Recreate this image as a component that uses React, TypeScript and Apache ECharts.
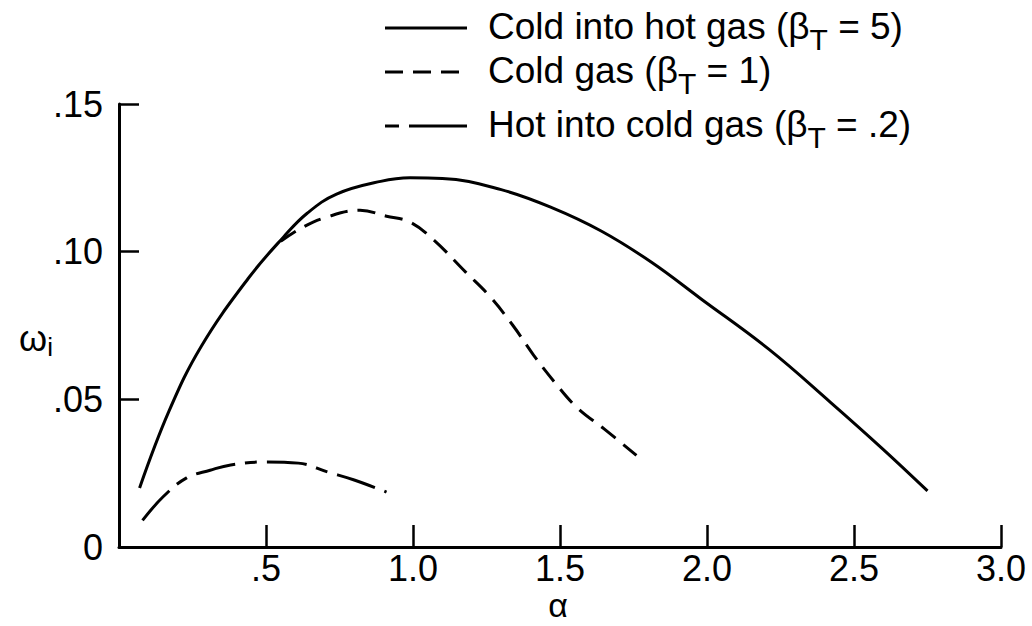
import React, { useEffect, useRef } from 'react';
import * as echarts from 'echarts';

const FONT = '"Liberation Sans", Arial, Helvetica, sans-serif';

// Cold into hot gas (beta_T = 5)
const coldIntoHotAlpha = [0.07, 0.17, 0.28, 0.44, 0.56, 0.64, 0.74, 0.89, 0.99, 1.10, 1.30, 1.47, 1.64, 1.81, 1.98, 2.21, 2.42, 2.60, 2.75];
const coldIntoHotOmega = [0.020, 0.046, 0.068, 0.091, 0.105, 0.113, 0.1195, 0.1238, 0.125, 0.1248, 0.121, 0.115, 0.107, 0.0965, 0.084, 0.067, 0.049, 0.033, 0.019];

// Cold gas (beta_T = 1)
const coldGasAlpha = [0.55, 0.62, 0.70, 0.82, 0.91, 0.99, 1.07, 1.18, 1.26, 1.34, 1.41, 1.48, 1.56, 1.65, 1.76];
const coldGasOmega = [0.1035, 0.108, 0.1115, 0.114, 0.112, 0.110, 0.104, 0.093, 0.085, 0.075, 0.065, 0.056, 0.047, 0.040, 0.031];

// Hot into cold gas (beta_T = .2)
const hotIntoColdAlpha = [0.08, 0.15, 0.23, 0.31, 0.38, 0.50, 0.61, 0.71, 0.80, 0.91];
const hotIntoColdOmega = [0.009, 0.017, 0.0234, 0.026, 0.0278, 0.0288, 0.0284, 0.0254, 0.0227, 0.0186];

const xTickLabels: Record<string, string> = { '0': '', '0.5': '.5', '1': '1.0', '1.5': '1.5', '2': '2.0', '2.5': '2.5', '3': '3.0' };
const yTickLabels: Record<string, string> = { '0': '0', '0.05': '.05', '0.1': '.10', '0.15': '.15' };

const legendNames = ['Cold into hot gas', 'Cold gas', 'Hot into cold gas'];
const legendBeta = ['5', '1', '.2'];

const zip = (a: number[], b: number[]) => a.map((v, i) => [v, b[i]]);

const DASHED = [18, 10];
const DASHDOT = [40, 10, 12, 10];

export default function App() {
  const ref = useRef<HTMLDivElement>(null);
  useEffect(() => {
    document.body.style.margin = '0';
    if (!ref.current) return;
    const chart = echarts.init(ref.current, undefined, { renderer: 'svg' });

    const legendRows = [26, 70, 124];
    const legendDash: any[] = ['solid', DASHED, [14, 10, 58, 0]];
    const graphic: any[] = [];
    legendRows.forEach((y, i) => {
      graphic.push({
        type: 'line',
        shape: { x1: 385, y1: y + 2, x2: 467, y2: y + 2 },
        style: { stroke: '#000', lineWidth: 3, lineDash: legendDash[i] === 'solid' ? null : legendDash[i] },
      });
      graphic.push({
        type: 'text',
        x: 488,
        y,
        style: {
          text: `{m|${legendNames[i]} (β}{s|T}{m| = ${legendBeta[i]})}`,
          verticalAlign: 'middle',
          align: 'left',
          rich: {
            m: { fontSize: 37, fontFamily: FONT, fill: '#000' },
            s: { fontSize: 30, fontFamily: FONT, fill: '#000', padding: [26, 0, 0, 0] },
          },
        },
      });
    });
    graphic.push({
      type: 'text',
      x: 36,
      y: 338,
      style: {
        text: '{w|ω}{i|i}',
        align: 'center',
        verticalAlign: 'middle',
        rich: {
          w: { fontSize: 36, fontFamily: FONT, fill: '#000' },
          i: { fontSize: 26, fontFamily: FONT, fill: '#000', padding: [18, 0, 0, 0] },
        },
      },
    });
    graphic.push({
      type: 'text',
      x: 558,
      y: 605,
      style: { text: 'α', fontSize: 34, fontFamily: FONT, fill: '#000', align: 'center', verticalAlign: 'middle' },
    });

    const lineBase = { type: 'line', showSymbol: false, smooth: 0.4, silent: true };

    chart.setOption({
      animation: false,
      backgroundColor: '#fff',
      grid: { left: 119, right: 31, top: 104, bottom: 79 },
      xAxis: {
        type: 'value',
        min: 0,
        max: 3,
        interval: 0.5,
        axisLine: { lineStyle: { color: '#000', width: 3 } },
        axisTick: { inside: true, length: 22, lineStyle: { color: '#000', width: 2.5 } },
        axisLabel: {
          color: '#000',
          fontSize: 36,
          fontFamily: FONT,
          margin: 3,
          formatter: (v: number) => xTickLabels[String(Math.round(v * 10) / 10)] ?? String(v),
        },
        splitLine: { show: false },
      },
      yAxis: {
        type: 'value',
        min: 0,
        max: 0.15,
        interval: 0.05,
        axisLine: { lineStyle: { color: '#000', width: 3 } },
        axisTick: { inside: true, length: 20, lineStyle: { color: '#000', width: 2.5 } },
        axisLabel: {
          color: '#000',
          fontSize: 36,
          fontFamily: FONT,
          margin: 16,
          formatter: (v: number) => yTickLabels[String(Math.round(v * 100) / 100)] ?? String(v),
        },
        splitLine: { show: false },
      },
      series: [
        {
          ...lineBase,
          name: 'Cold gas',
          data: zip(coldGasAlpha, coldGasOmega),
          lineStyle: { color: '#000', width: 3, type: DASHED },
          z: 2,
        },
        {
          ...lineBase,
          name: 'Hot into cold gas',
          data: zip(hotIntoColdAlpha, hotIntoColdOmega),
          lineStyle: { color: '#000', width: 3, type: DASHDOT },
          z: 2,
        },
        {
          ...lineBase,
          name: 'Cold into hot gas',
          data: zip(coldIntoHotAlpha, coldIntoHotOmega),
          lineStyle: { color: '#000', width: 3, type: 'solid' },
          z: 3,
        },
      ],
      graphic,
    });
    return () => chart.dispose();
  }, []);
  return <div ref={ref} style={{ width: 1032, height: 626 }} />;
}
